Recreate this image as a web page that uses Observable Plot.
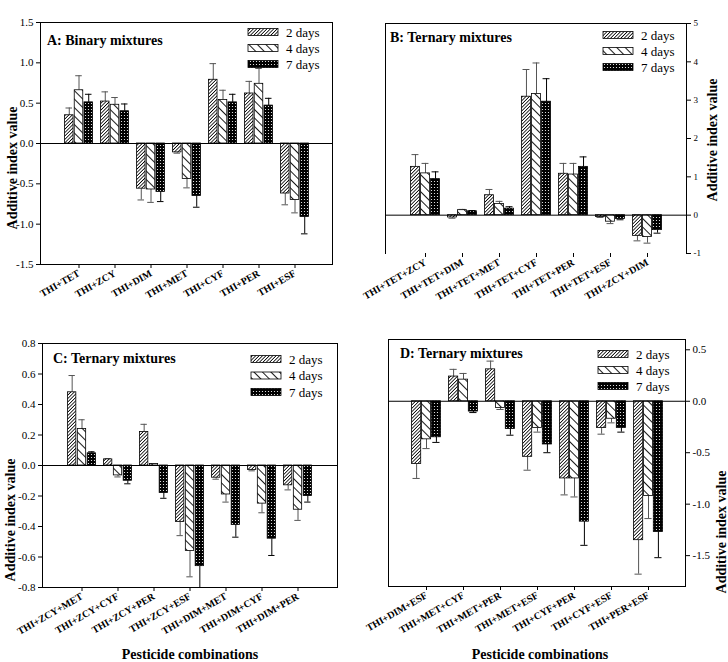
<!DOCTYPE html>
<html><head><meta charset="utf-8">
<script src="https://cdn.jsdelivr.net/npm/d3@7"></script>
<script src="https://cdn.jsdelivr.net/npm/@observablehq/plot@0.6"></script>
<style>
body{margin:0;background:#fff;}
#wrap{position:relative;width:728px;height:662px;font-family:"Liberation Serif","Times New Roman",serif;overflow:hidden;}
#wrap > svg{position:absolute;}
</style></head><body>
<svg width="0" height="0" style="position:absolute">
<defs>
<pattern id="pat0" patternUnits="userSpaceOnUse" width="2.4" height="2.4" patternTransform="rotate(45)"><rect width="2.4" height="2.4" fill="#fff"/><line x1="0.4" y1="0" x2="0.4" y2="2.4" stroke="#000" stroke-width="0.8"/></pattern>
<pattern id="pat1" patternUnits="userSpaceOnUse" width="6" height="6" patternTransform="rotate(-45)"><rect width="6" height="6" fill="#fff"/><line x1="0.5" y1="0" x2="0.5" y2="6" stroke="#000" stroke-width="0.9"/></pattern>
<pattern id="pat2" patternUnits="userSpaceOnUse" width="3" height="3"><rect width="3" height="3" fill="#000"/><circle cx="1.5" cy="1.5" r="0.6" fill="#fff"/></pattern>
</defs></svg>
<div id="wrap"></div>
<script>
const series = ["2 days", "4 days", "7 days"];

// Panel A: Binary mixtures
const catsA = ["THI+TET","THI+ZCY","THI+DIM","THI+MET","THI+CYF","THI+PER","THI+ESF"];
const a2  = [0.35, 0.52, -0.56, -0.11, 0.79, 0.62, -0.62];
const a4  = [0.66, 0.48, -0.57, -0.44, 0.54, 0.74, -0.70];
const a7  = [0.51, 0.40, -0.60, -0.65, 0.51, 0.47, -0.91];
const a2e = [0.44, 0.64, -0.70, -0.12, 0.99, 0.77, -0.76];
const a4e = [0.84, 0.57, -0.73, -0.55, 0.66, 0.93, -0.86];
const a7e = [0.61, 0.49, -0.72, -0.79, 0.61, 0.56, -1.12];

// Panel B: Ternary mixtures
const catsB = ["THI+TET+ZCY","THI+TET+DIM","THI+TET+MET","THI+TET+CYF","THI+TET+PER","THI+TET+ESF","THI+ZCY+DIM"];
const b2  = [1.26, -0.06, 0.52, 3.09, 1.08, -0.05, -0.54];
const b4  = [1.09, 0.13, 0.29, 3.16, 1.06, -0.17, -0.57];
const b7  = [0.94, 0.10, 0.17, 2.96, 1.26, -0.10, -0.39];
const b2e = [1.58, -0.08, 0.67, 3.80, 1.35, -0.06, -0.67];
const b4e = [1.35, 0.15, 0.36, 3.97, 1.35, -0.22, -0.73];
const b7e = [1.13, 0.12, 0.22, 3.56, 1.52, -0.12, -0.47];

// Panel C: Ternary mixtures
const catsC = ["THI+ZCY+MET","THI+ZCY+CYF","THI+ZCY+PER","THI+ZCY+ESF","THI+DIM+MET","THI+DIM+CYF","THI+DIM+PER"];
const c2  = [0.48, 0.04, 0.22, -0.37, -0.08, -0.03, -0.13];
const c4  = [0.24, -0.065, 0.01, -0.56, -0.19, -0.25, -0.29];
const c7  = [0.08, -0.10, -0.18, -0.66, -0.39, -0.48, -0.20];
const c2e = [0.59, 0.045, 0.27, -0.46, -0.09, -0.035, -0.16];
const c4e = [0.30, -0.075, 0.012, -0.73, -0.24, -0.31, -0.36];
const c7e = [0.09, -0.12, -0.215, -0.80, -0.47, -0.59, -0.24];

// Panel D: Ternary mixtures
const catsD = ["THI+DIM+ESF","THI+MET+CYF","THI+MET+PER","THI+MET+ESF","THI+CYF+PER","THI+CYF+ESF","THI+PER+ESF"];
const d2  = [-0.61, 0.24, 0.31, -0.54, -0.75, -0.26, -1.35];
const d4  = [-0.37, 0.21, -0.065, -0.26, -0.75, -0.17, -0.92];
const d7  = [-0.35, -0.10, -0.27, -0.42, -1.17, -0.26, -1.27];
const d2e = [-0.75, 0.31, 0.39, -0.67, -0.91, -0.32, -1.68];
const d4e = [-0.46, 0.27, -0.08, -0.30, -0.93, -0.21, -1.14];
const d7e = [-0.40, -0.11, -0.33, -0.50, -1.40, -0.30, -1.52];

const fmt1 = d => d.toFixed(1);
const fmt0 = d => String(d);

function panel(cfg) {
  const {cats, vals, errs, domain, ticks, fmt, ml, mr, mt, mb, w, h, yAnchor, sides, yFont} = cfg;
  const step = (w - ml - mr) / 8;
  const sub = step * 0.8 / 3;
  const marks = [];
  vals.forEach((v, i) => {
    const data = cats.map((c, j) => ({cat: c, value: v[j], err: errs[i][j], series: series[i]}));
    const ec = i === 2 ? "#000" : "#555";
    marks.push(Plot.ruleX(data, {x: "cat", y1: "value", y2: "err", dx: (i - 1) * sub, stroke: ec, strokeWidth: 1}));
    marks.push(Plot.tickY(data, {x: "cat", y: "err", insetLeft: i * sub + 1.5, insetRight: (2 - i) * sub + 1.5, stroke: ec, strokeWidth: 1}));
    marks.push(Plot.barY(data, {x: "cat", y: "value", fill: `url(#pat${i})`, stroke: "#000", strokeWidth: 0.8, insetLeft: i * sub + 0.5, insetRight: (2 - i) * sub + 0.5}));
  });
  marks.push(Plot.ruleY([0], {stroke: "#000", strokeWidth: 1}));
  sides.forEach(s => marks.push(Plot.frame({anchor: s, stroke: "#000", strokeWidth: 1})));
  marks.push(Plot.axisY({anchor: yAnchor, ticks, tickFormat: fmt, tickSize: 4, tickPadding: 3, fontSize: yFont, label: null}));
  marks.push(Plot.axisX({anchor: "bottom", tickRotate: -30, tickSize: 4, tickPadding: 4, fontSize: 10, fontWeight: "bold", label: null}));
  const svg = Plot.plot({
    width: w, height: h, marginLeft: ml, marginRight: mr, marginTop: mt, marginBottom: mb,
    x: {domain: cats, paddingInner: 0.2, paddingOuter: 0.6},
    y: {domain},
    style: {fontFamily: "Liberation Serif, serif", background: "transparent", color: "#000", overflow: "visible"},
    marks
  });
  svg.style.left = cfg.left + "px";
  svg.style.top = cfg.top + "px";
  return svg;
}

const wrap = document.getElementById("wrap");
wrap.append(panel({cats: catsA, vals: [a2, a4, a7], errs: [a2e, a4e, a7e], domain: [-1.5, 1.5], ticks: [-1.5, -1, -0.5, 0, 0.5, 1, 1.5], fmt: fmt1,
  left: 0, top: 0, w: 364, h: 330, ml: 40, mr: 32, mt: 22, mb: 66, yAnchor: "left", sides: ["top", "right", "bottom", "left"], yFont: 11}));
wrap.append(panel({cats: catsB, vals: [b2, b4, b7], errs: [b2e, b4e, b7e], domain: [-1, 5], ticks: [-1, 0, 1, 2, 3, 4, 5], fmt: fmt0,
  left: 364, top: 0, w: 364, h: 330, ml: 21, mr: 42, mt: 23, mb: 77, yAnchor: "right", sides: ["top", "right", "left"], yFont: 9}));
wrap.append(panel({cats: catsC, vals: [c2, c4, c7], errs: [c2e, c4e, c7e], domain: [-0.8, 0.8], ticks: [-0.8, -0.6, -0.4, -0.2, 0, 0.2, 0.4, 0.6, 0.8], fmt: fmt1,
  left: 0, top: 330, w: 364, h: 332, ml: 42, mr: 27, mt: 13, mb: 75, yAnchor: "left", sides: ["top", "right", "bottom", "left"], yFont: 11}));
wrap.append(panel({cats: catsD, vals: [d2, d4, d7], errs: [d2e, d4e, d7e], domain: [-1.8, 0.6], ticks: [-1.5, -1, -0.5, 0, 0.5], fmt: fmt1,
  left: 364, top: 330, w: 364, h: 332, ml: 24, mr: 43, mt: 9, mb: 76, yAnchor: "right", sides: ["top", "right", "bottom", "left"], yFont: 11}));

// Overlay: titles, legends, axis titles
const ov = d3.select(wrap).append("svg").attr("width", 728).attr("height", 662)
  .style("left", "0px").style("top", "0px").style("font-family", "Liberation Serif, serif");
const titles = [
  {t: "A: Binary mixtures", x: 47, y: 45},
  {t: "B: Ternary mixtures", x: 390, y: 42},
  {t: "C: Ternary mixtures", x: 53, y: 363},
  {t: "D: Ternary mixtures", x: 400, y: 358}
];
ov.selectAll("text.title").data(titles).join("text").attr("class", "title")
  .attr("x", d => d.x).attr("y", d => d.y).attr("font-size", 14).attr("font-weight", "bold").text(d => d.t);

const legends = [
  {x: 248, y: 32, gap: 16},
  {x: 603, y: 35, gap: 16},
  {x: 251, y: 359, gap: 16.5},
  {x: 598, y: 354, gap: 16}
];
legends.forEach(L => {
  series.forEach((s, i) => {
    const cy = L.y + i * L.gap;
    ov.append("rect").attr("x", L.x).attr("y", cy - 3.5).attr("width", 30).attr("height", 7)
      .attr("fill", `url(#pat${i})`).attr("stroke", "#000").attr("stroke-width", 0.8);
    ov.append("text").attr("x", L.x + 38).attr("y", cy + 4.5).attr("font-size", 13).text(s);
  });
});

const ylabels = [
  {x: 17, y: 168}, {x: 717, y: 140}, {x: 15, y: 520}, {x: 726, y: 532}
];
ov.selectAll("text.yl").data(ylabels).join("text").attr("class", "yl")
  .attr("transform", d => `translate(${d.x},${d.y}) rotate(-90)`).attr("text-anchor", "middle")
  .attr("font-size", 14).attr("font-weight", "bold").text("Additive index value");

const xlabels = [{x: 190, y: 659}, {x: 540, y: 659}];
ov.selectAll("text.xl").data(xlabels).join("text").attr("class", "xl")
  .attr("x", d => d.x).attr("y", d => d.y).attr("text-anchor", "middle")
  .attr("font-size", 14).attr("font-weight", "bold").text("Pesticide combinations");
</script>
</body></html>
